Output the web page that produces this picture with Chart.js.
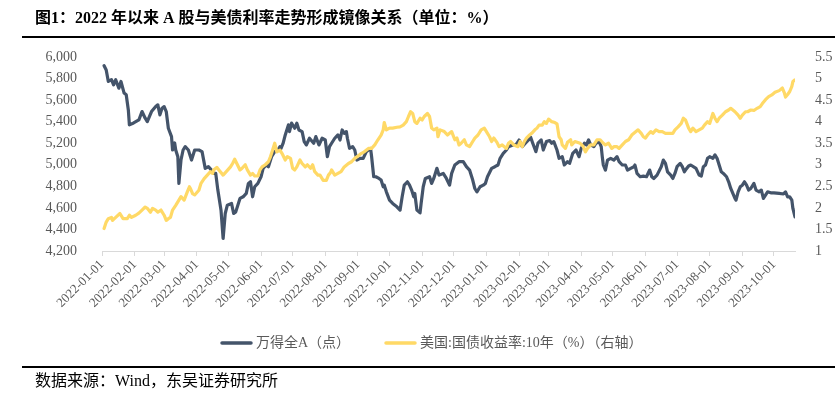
<!DOCTYPE html>
<html>
<head>
<meta charset="utf-8">
<title>A股与美债利率</title>
<script src="https://cdn.jsdelivr.net/npm/chart.js@4.4.0/dist/chart.umd.min.js"></script>
<style>
    html, body { margin: 0; padding: 0; background: #fff; }
    #wrap { width: 835px; height: 399px; position: relative; }
</style>
</head>
<body>
<div id="wrap"><canvas id="chart" width="835" height="399"></canvas></div>
<script>
// --- data ---
const indexDates = [
    '2022-01-03','2022-01-05','2022-01-07','2022-01-10','2022-01-12','2022-01-14','2022-01-17','2022-01-19','2022-01-22','2022-01-24','2022-01-26','2022-01-27','2022-01-31',
    '2022-02-05','2022-02-08','2022-02-11','2022-02-13','2022-02-17','2022-02-21','2022-02-23','2022-02-25','2022-02-27',
    '2022-03-01','2022-03-03','2022-03-05','2022-03-08','2022-03-09','2022-03-11','2022-03-12','2022-03-14','2022-03-15','2022-03-17','2022-03-19','2022-03-21','2022-03-24','2022-03-27','2022-03-30',
    '2022-04-03','2022-04-06','2022-04-09','2022-04-12','2022-04-15','2022-04-17','2022-04-19','2022-04-21','2022-04-24','2022-04-26','2022-04-28','2022-04-30',
    '2022-05-04','2022-05-06','2022-05-08','2022-05-12','2022-05-15','2022-05-18','2022-05-20','2022-05-22','2022-05-24','2022-05-26','2022-05-29',
    '2022-06-01','2022-06-03','2022-06-06','2022-06-08','2022-06-11','2022-06-14','2022-06-17','2022-06-19','2022-06-20','2022-06-22','2022-06-24','2022-06-27','2022-06-28','2022-06-30',
    '2022-07-03','2022-07-05','2022-07-07','2022-07-10','2022-07-12','2022-07-14','2022-07-17','2022-07-21','2022-07-23','2022-07-26','2022-07-29',
    '2022-08-01','2022-08-03','2022-08-05','2022-08-07','2022-08-10','2022-08-13','2022-08-15','2022-08-17','2022-08-19','2022-08-21','2022-08-22','2022-08-24','2022-08-27','2022-08-29','2022-08-31',
    '2022-09-03','2022-09-06','2022-09-09','2022-09-11','2022-09-13','2022-09-14','2022-09-16','2022-09-18','2022-09-21','2022-09-23','2022-09-25','2022-09-26','2022-09-28',
    '2022-10-01','2022-10-04','2022-10-08','2022-10-11','2022-10-13','2022-10-15','2022-10-18','2022-10-20','2022-10-22','2022-10-24','2022-10-25','2022-10-27','2022-10-30','2022-10-31',
    '2022-11-02','2022-11-04','2022-11-08','2022-11-10','2022-11-12','2022-11-15','2022-11-17','2022-11-21','2022-11-24','2022-11-27','2022-11-29',
    '2022-12-02','2022-12-06','2022-12-10','2022-12-13','2022-12-16','2022-12-19','2022-12-21','2022-12-23','2022-12-26','2022-12-29','2022-12-31',
    '2023-01-02','2023-01-06','2023-01-09','2023-01-12','2023-01-14','2023-01-17','2023-01-20','2023-01-22','2023-01-26','2023-01-29',
    '2023-02-01','2023-02-04','2023-02-07','2023-02-10','2023-02-12','2023-02-14','2023-02-17','2023-02-19','2023-02-22','2023-02-24','2023-02-27',
    '2023-03-02','2023-03-04','2023-03-06','2023-03-09','2023-03-11','2023-03-14','2023-03-16','2023-03-19','2023-03-21','2023-03-24','2023-03-27','2023-03-30',
    '2023-04-01','2023-04-04','2023-04-06','2023-04-08','2023-04-10','2023-04-13','2023-04-15','2023-04-18','2023-04-20','2023-04-21','2023-04-22','2023-04-24','2023-04-26','2023-04-29',
    '2023-05-02','2023-05-05','2023-05-07','2023-05-10','2023-05-13','2023-05-15','2023-05-18','2023-05-21','2023-05-22','2023-05-24','2023-05-27','2023-05-30',
    '2023-06-02','2023-06-05','2023-06-07','2023-06-09','2023-06-12','2023-06-16','2023-06-18','2023-06-20','2023-06-22','2023-06-25','2023-06-27','2023-06-29',
    '2023-07-01','2023-07-04','2023-07-06','2023-07-08','2023-07-09','2023-07-12','2023-07-14','2023-07-19','2023-07-22','2023-07-24','2023-07-26','2023-07-28','2023-07-30',
    '2023-08-01','2023-08-04','2023-08-06','2023-08-08','2023-08-10','2023-08-12','2023-08-14','2023-08-17','2023-08-19','2023-08-21','2023-08-23','2023-08-25','2023-08-26','2023-08-28','2023-08-30',
    '2023-09-01','2023-09-03','2023-09-05','2023-09-07','2023-09-09','2023-09-12','2023-09-14','2023-09-17','2023-09-19','2023-09-21','2023-09-23','2023-09-25','2023-09-28',
    '2023-10-01','2023-10-06','2023-10-10','2023-10-12','2023-10-14','2023-10-16','2023-10-18','2023-10-19','2023-10-21'
];
const indexValues = [
    5919,5880,5773,5790,5742,5789,5711,5773,5665,5649,5509,5370,5388,
    5416,5494,5432,5401,5494,5540,5556,5463,5525,
    5540,5494,5339,5261,5137,5202,5137,5075,4827,5044,5137,5168,5137,5044,5137,
    5137,5122,4967,4982,4951,4920,4920,4765,4579,4316,4548,4625,
    4641,4548,4563,4688,4703,4734,4827,4842,4703,4796,4827,
    4889,4967,4998,4982,5075,5122,5137,5168,5152,5200,5277,5370,5308,5386,
    5339,5386,5323,5308,5215,5184,5246,5200,5261,5184,5246,
    5230,5075,5168,5200,5246,5277,5230,5323,5292,5308,5246,5153,5168,5137,5044,
    5060,5060,5122,5137,5152,5075,4889,4889,4873,4858,4796,4811,4749,
    4672,4641,4610,4579,4703,4811,4842,4811,4765,4703,4734,4579,4554,4641,
    4796,4873,4889,4827,4873,4967,4904,4920,4873,4811,4920,
    4998,5029,5029,4982,4951,4858,4780,4749,4796,4811,4827,
    4889,4967,4982,4998,5060,5106,5137,5168,5184,5184,
    5230,5168,5200,5230,5255,5200,5122,5200,5230,5137,5215,
    5225,5200,5215,5137,5060,5075,4998,5029,5013,5106,5137,5075,
    5152,5200,5184,5230,5184,5168,5200,5215,5168,5075,4998,4951,5044,5060,
    5044,5075,5029,4998,4998,4951,4967,4982,4998,4920,4889,4895,
    4889,4951,4889,4873,4904,4982,5044,5013,4935,4904,4873,4920,
    4982,5013,4982,4935,4951,4989,4998,4967,4904,4895,4982,4998,5060,
    5075,5060,5091,5060,4998,4935,4920,4889,4842,4780,4734,4688,4672,4749,4796,
    4811,4842,4811,4765,4780,4827,4765,4749,4765,4688,4719,4749,4740,
    4740,4734,4729,4749,4703,4703,4672,4595,4517
];

const yieldDates = [
    '2022-01-03','2022-01-05','2022-01-07','2022-01-10','2022-01-11','2022-01-14','2022-01-18','2022-01-21','2022-01-25','2022-01-27','2022-01-29',
    '2022-02-02','2022-02-05','2022-02-08','2022-02-11','2022-02-13','2022-02-16','2022-02-18','2022-02-21','2022-02-23','2022-02-26',
    '2022-03-01','2022-03-03','2022-03-05','2022-03-07','2022-03-09','2022-03-12','2022-03-15','2022-03-17','2022-03-20','2022-03-23','2022-03-25','2022-03-26','2022-03-28','2022-03-30',
    '2022-04-03','2022-04-05','2022-04-08','2022-04-11','2022-04-14','2022-04-16','2022-04-17','2022-04-20','2022-04-22','2022-04-26','2022-04-29',
    '2022-05-03','2022-05-05','2022-05-07','2022-05-09','2022-05-12','2022-05-14','2022-05-17','2022-05-19','2022-05-22','2022-05-24','2022-05-26','2022-05-29','2022-05-31',
    '2022-06-02','2022-06-05','2022-06-08','2022-06-10','2022-06-12','2022-06-14','2022-06-16','2022-06-19','2022-06-21','2022-06-24','2022-06-26','2022-06-29',
    '2022-07-01','2022-07-03','2022-07-05','2022-07-08','2022-07-10','2022-07-13','2022-07-15','2022-07-18','2022-07-20','2022-07-22','2022-07-25','2022-07-27','2022-07-30',
    '2022-08-02','2022-08-04','2022-08-06','2022-08-07','2022-08-10','2022-08-13','2022-08-16','2022-08-19','2022-08-23','2022-08-26','2022-08-29',
    '2022-09-01','2022-09-04','2022-09-07','2022-09-11','2022-09-14','2022-09-17','2022-09-20','2022-09-23','2022-09-25','2022-09-26','2022-09-28',
    '2022-10-01','2022-10-04','2022-10-08','2022-10-11','2022-10-14','2022-10-17','2022-10-19','2022-10-21','2022-10-23','2022-10-25','2022-10-27','2022-10-30',
    '2022-11-01','2022-11-03','2022-11-06','2022-11-08','2022-11-10','2022-11-12','2022-11-15','2022-11-16','2022-11-18','2022-11-22','2022-11-25','2022-11-27','2022-11-29',
    '2022-12-02','2022-12-04','2022-12-06','2022-12-08','2022-12-11','2022-12-13','2022-12-16','2022-12-19','2022-12-21','2022-12-24','2022-12-27','2022-12-30',
    '2023-01-01','2023-01-04','2023-01-06','2023-01-08','2023-01-11','2023-01-13','2023-01-16','2023-01-20','2023-01-22','2023-01-24','2023-01-27','2023-01-31',
    '2023-02-02','2023-02-04','2023-02-06','2023-02-08','2023-02-11','2023-02-13','2023-02-16','2023-02-18','2023-02-20','2023-02-23','2023-02-25','2023-02-27',
    '2023-03-01','2023-03-04','2023-03-07','2023-03-09','2023-03-11','2023-03-13','2023-03-14','2023-03-17','2023-03-19','2023-03-22','2023-03-23','2023-03-26','2023-03-31',
    '2023-04-03','2023-04-05','2023-04-07','2023-04-10','2023-04-13','2023-04-16','2023-04-19','2023-04-22','2023-04-24','2023-04-27','2023-04-30',
    '2023-05-02','2023-05-05','2023-05-07','2023-05-10','2023-05-13','2023-05-16','2023-05-19','2023-05-23','2023-05-25','2023-05-28','2023-05-30',
    '2023-06-01','2023-06-03','2023-06-06','2023-06-08','2023-06-11','2023-06-14','2023-06-17','2023-06-20','2023-06-24','2023-06-27','2023-06-29',
    '2023-07-02','2023-07-05','2023-07-07','2023-07-09','2023-07-12','2023-07-14','2023-07-16','2023-07-19','2023-07-22','2023-07-25','2023-07-27','2023-07-30',
    '2023-08-01','2023-08-04','2023-08-06','2023-08-08','2023-08-10','2023-08-13','2023-08-16','2023-08-19','2023-08-21','2023-08-23','2023-08-25','2023-08-28','2023-08-30',
    '2023-09-01','2023-09-04','2023-09-06','2023-09-09','2023-09-12','2023-09-15','2023-09-18','2023-09-20','2023-09-23','2023-09-26','2023-09-29',
    '2023-10-02','2023-10-06','2023-10-09','2023-10-11','2023-10-12','2023-10-14','2023-10-16','2023-10-18','2023-10-19','2023-10-21'
];
const yieldValues = [
    1.52,1.67,1.75,1.78,1.71,1.78,1.87,1.75,1.75,1.83,1.78,
    1.83,1.88,1.95,2.02,1.99,1.90,1.99,1.95,1.90,1.95,
    1.83,1.71,1.75,1.78,1.95,2.06,2.18,2.26,2.18,2.37,2.49,2.45,2.33,2.30,
    2.41,2.57,2.68,2.76,2.84,2.80,2.88,2.94,2.88,2.76,2.84,
    2.95,3.03,3.13,3.03,2.88,2.92,3.00,2.88,2.76,2.80,2.74,2.74,2.88,
    2.95,3.00,3.07,3.19,3.34,3.50,3.30,3.34,3.26,3.11,3.19,3.15,
    2.92,2.88,2.95,3.11,3.03,2.95,3.00,2.92,3.00,2.84,2.76,2.76,2.64,
    2.64,2.76,2.82,2.88,2.76,2.80,2.84,2.95,3.03,3.07,3.15,
    3.20,3.26,3.30,3.38,3.38,3.46,3.58,3.69,3.81,3.98,3.81,
    3.85,3.85,3.87,3.88,3.92,4.00,4.12,4.23,4.19,4.00,3.96,4.08,
    4.04,4.12,4.19,4.12,3.85,3.81,3.85,3.65,3.81,3.77,3.69,3.73,3.77,
    3.58,3.62,3.46,3.50,3.58,3.46,3.42,3.54,3.62,3.69,3.81,3.85,
    3.77,3.65,3.54,3.62,3.52,3.42,3.46,3.38,3.50,3.54,3.46,3.42,
    3.54,3.42,3.54,3.62,3.69,3.73,3.81,3.85,3.92,3.92,4.00,3.96,
    4.06,4.00,3.98,3.95,3.65,3.58,3.46,3.38,3.52,3.58,3.46,3.54,3.50,
    3.42,3.30,3.38,3.46,3.46,3.58,3.58,3.50,3.46,3.50,3.38,
    3.42,3.42,3.38,3.46,3.54,3.58,3.69,3.77,3.81,3.73,3.65,
    3.62,3.69,3.77,3.73,3.81,3.77,3.77,3.73,3.73,3.73,3.81,
    3.88,3.96,4.08,4.04,3.85,3.77,3.85,3.77,3.81,3.85,3.92,4.00,
    3.96,4.19,4.08,4.00,4.08,4.15,4.23,4.27,4.31,4.27,4.23,4.15,4.08,
    4.15,4.23,4.23,4.27,4.26,4.31,4.35,4.42,4.51,4.58,4.62,
    4.68,4.72,4.78,4.66,4.57,4.63,4.70,4.82,4.93,4.97
];

const monthLabels = [
    '2022-01-01','2022-02-01','2022-03-01','2022-04-01','2022-05-01','2022-06-01','2022-07-01','2022-08-01','2022-09-01','2022-10-01','2022-11-01','2022-12-01',
    '2023-01-01','2023-02-01','2023-03-01','2023-04-01','2023-05-01','2023-06-01','2023-07-01','2023-08-01','2023-09-01','2023-10-01'
];
const leftTicks = [4200, 4400, 4600, 4800, 5000, 5200, 5400, 5600, 5800, 6000];
const rightTicks = [1, 1.5, 2, 2.5, 3, 3.5, 4, 4.5, 5, 5.5];
const axisEnd = '2023-10-21';

const seriesNames = ['万得全A（点）', '美国:国债收益率:10年（%）（右轴）'];
const titleText = '图1：2022 年以来 A 股与美债利率走势形成镜像关系（单位：%）';
const sourceText = '数据来源：Wind，东吴证券研究所';

// --- helpers ---
const DAY0 = Date.UTC(2022, 0, 1);
const toDay = (s) => {
    const p = s.split('-').map(Number);
    return (Date.UTC(p[0], p[1] - 1, p[2]) - DAY0) / 86400000;
};

const NAVY = '#44546A';
const GOLD = '#FFD966';
const GREY = '#595959';
const SERIF = '"Liberation Serif", "Noto Sans CJK SC", serif';

// title, rules, legend and source note
const decorations = {
    id: 'decorations',
    afterDraw(chart) {
        const ctx = chart.ctx;
        ctx.save();
        ctx.fillStyle = '#000';
        ctx.textBaseline = 'middle';
        ctx.font = 'bold 16px ' + SERIF;
        ctx.fillText(titleText, 35, 19);

        ctx.strokeStyle = '#000';
        ctx.lineWidth = 2;
        ctx.beginPath();
        ctx.moveTo(22, 37); ctx.lineTo(835, 37);
        ctx.moveTo(22, 367); ctx.lineTo(835, 367);
        ctx.stroke();

        ctx.font = '16px ' + SERIF;
        ctx.fillStyle = '#000';
        ctx.fillText(sourceText, 35, 382);

        // legend
        const items = [
            { x: 220, color: NAVY, label: seriesNames[0] },
            { x: 384, color: GOLD, label: seriesNames[1] }
        ];
        ctx.font = '14px ' + SERIF;
        ctx.lineCap = 'round';
        ctx.lineWidth = 3.5;
        items.forEach(it => {
            ctx.strokeStyle = it.color;
            ctx.beginPath();
            ctx.moveTo(it.x + 2, 343);
            ctx.lineTo(it.x + 31, 343);
            ctx.stroke();
            ctx.fillStyle = GREY;
            ctx.fillText(it.label, it.x + 36, 343);
        });
        ctx.restore();
    }
};

new Chart(document.getElementById('chart'), {
    type: 'line',
    data: {
        datasets: [
            {
                label: seriesNames[1],
                data: yieldDates.map((d, i) => ({ x: toDay(d), y: yieldValues[i] })),
                yAxisID: 'yRight',
                borderColor: GOLD,
                borderWidth: 3.2,
                order: 0
            },
            {
                label: seriesNames[0],
                data: indexDates.map((d, i) => ({ x: toDay(d), y: indexValues[i] })),
                yAxisID: 'yLeft',
                borderColor: NAVY,
                borderWidth: 3.2,
                order: 1
            }
        ]
    },
    options: {
        responsive: false,
        animation: false,
        devicePixelRatio: 1,
        layout: { padding: { top: 57, left: 0, right: 0, bottom: 0 } },
        elements: {
            point: { radius: 0 },
            line: { tension: 0, borderJoinStyle: 'round', borderCapStyle: 'round' }
        },
        plugins: { legend: { display: false }, tooltip: { enabled: false } },
        scales: {
            x: {
                type: 'linear',
                min: 0,
                max: toDay(axisEnd),
                afterBuildTicks(scale) {
                    scale.ticks = monthLabels.map(d => ({ value: toDay(d) }));
                },
                afterFit(scale) { scale.height = 148; },
                grid: { drawOnChartArea: false, drawTicks: true, tickLength: 5, color: '#D9D9D9' },
                border: { display: true, color: '#D9D9D9', width: 1 },
                ticks: {
                    autoSkip: false,
                    maxRotation: 45,
                    minRotation: 45,
                    padding: 1,
                    color: GREY,
                    font: { family: SERIF, size: 13 },
                    callback: (v, i) => monthLabels[i]
                }
            },
            yLeft: {
                position: 'left',
                min: leftTicks[0],
                max: leftTicks[leftTicks.length - 1],
                afterBuildTicks(scale) { scale.ticks = leftTicks.map(v => ({ value: v })); },
                afterFit(scale) { scale.width = 102; },
                grid: { display: false },
                border: { display: false },
                ticks: {
                    padding: 17,
                    color: GREY,
                    font: { family: SERIF, size: 14 },
                    callback: (v) => v.toLocaleString('en-US')
                }
            },
            yRight: {
                position: 'right',
                min: rightTicks[0],
                max: rightTicks[rightTicks.length - 1],
                afterBuildTicks(scale) { scale.ticks = rightTicks.map(v => ({ value: v })); },
                afterFit(scale) { scale.width = 40; },
                grid: { display: false },
                border: { display: false },
                ticks: {
                    padding: 12,
                    color: GREY,
                    font: { family: SERIF, size: 14 },
                    callback: (v) => String(v)
                }
            }
        }
    },
    plugins: [decorations]
});
</script>
</body>
</html>
